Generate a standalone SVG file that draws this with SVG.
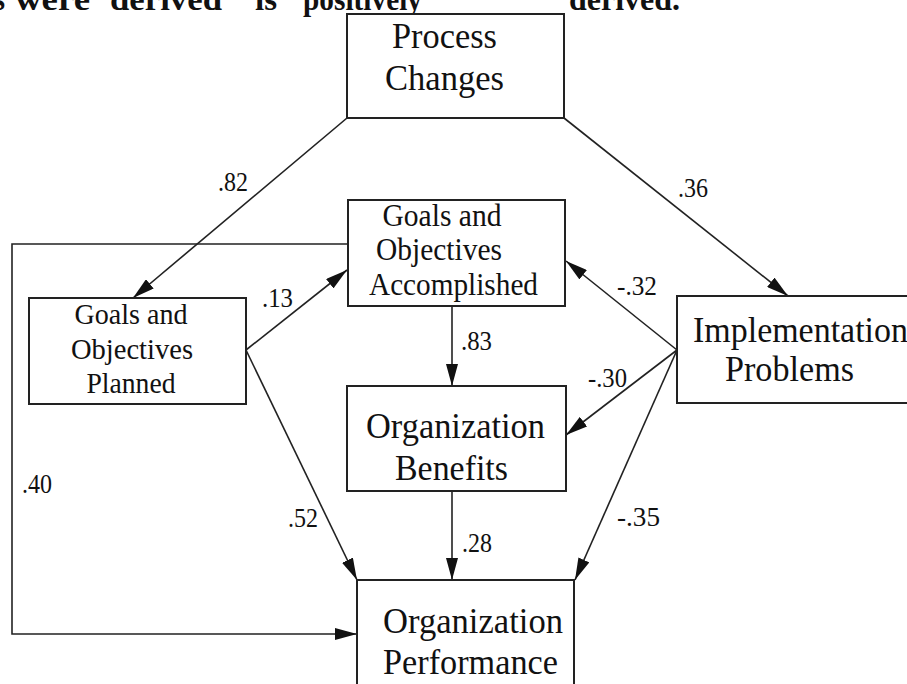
<svg xmlns="http://www.w3.org/2000/svg" width="907" height="684" viewBox="0 0 907 684">
  <style>
    .box { fill: #ffffff; stroke: #222; stroke-width: 2; }
    .node { font-family: "Liberation Serif", "Times New Roman", serif; font-size: 36px; fill: #111; }
    .small { font-size: 31px; }
    .lbl { font-family: "Liberation Serif", "Times New Roman", serif; font-size: 27px; fill: #111; }
    .edge { fill: none; stroke: #222; stroke-width: 1.6; }
    .head { font-family: "Liberation Serif", "Times New Roman", serif; font-size: 31px; font-weight: bold; fill: #111; }
  </style>
  <defs>
    <marker id="arrow" markerUnits="userSpaceOnUse" markerWidth="22" markerHeight="12" refX="22" refY="6" orient="auto">
      <path d="M0,0 L22,6 L0,12 z" fill="#111"/>
    </marker>
  </defs>
  <rect x="0" y="0" width="907" height="684" fill="#ffffff"/>

  <g id="header-text" class="head">
    <text x="-7" y="10">s</text>
    <text x="15" y="10" textLength="75" lengthAdjust="spacingAndGlyphs">were</text>
    <text x="110" y="10" textLength="112" lengthAdjust="spacingAndGlyphs">derived</text>
    <text x="255" y="10" textLength="22" lengthAdjust="spacingAndGlyphs">is</text>
    <text x="303" y="10" textLength="119" lengthAdjust="spacingAndGlyphs">positively</text>
    <text x="569" y="10" textLength="111" lengthAdjust="spacingAndGlyphs">derived.</text>
  </g>

  <g id="connectors">
    <line class="edge" x1="347" y1="118" x2="133" y2="298" marker-end="url(#arrow)"/>
    <line class="edge" x1="564" y1="118" x2="788" y2="296" marker-end="url(#arrow)"/>
    <line class="edge" x1="246" y1="350" x2="347" y2="270" marker-end="url(#arrow)"/>
    <line class="edge" x1="246" y1="350" x2="357" y2="580" marker-end="url(#arrow)"/>
    <line class="edge" x1="452" y1="306" x2="452" y2="386" marker-end="url(#arrow)"/>
    <line class="edge" x1="452" y1="491" x2="452" y2="580" marker-end="url(#arrow)"/>
    <line class="edge" x1="677" y1="350" x2="566" y2="261" marker-end="url(#arrow)"/>
    <line class="edge" x1="677" y1="350" x2="566" y2="435" marker-end="url(#arrow)"/>
    <line class="edge" x1="677" y1="350" x2="575" y2="580" marker-end="url(#arrow)"/>
    <polyline class="edge" points="348,244 12,244 12,634 357,634" marker-end="url(#arrow)"/>
    <g class="lbl">
      <text x="218" y="191" textLength="30" lengthAdjust="spacingAndGlyphs">.82</text>
      <text x="678" y="197" textLength="30" lengthAdjust="spacingAndGlyphs">.36</text>
      <text x="262" y="307" textLength="31" lengthAdjust="spacingAndGlyphs">.13</text>
      <text x="617" y="295" textLength="40" lengthAdjust="spacingAndGlyphs">-.32</text>
      <text x="461" y="350" textLength="31" lengthAdjust="spacingAndGlyphs">.83</text>
      <text x="588" y="387" textLength="39" lengthAdjust="spacingAndGlyphs">-.30</text>
      <text x="22" y="493" textLength="30" lengthAdjust="spacingAndGlyphs">.40</text>
      <text x="288" y="527" textLength="30" lengthAdjust="spacingAndGlyphs">.52</text>
      <text x="462" y="552" textLength="30" lengthAdjust="spacingAndGlyphs">.28</text>
      <text x="617" y="526" textLength="43" lengthAdjust="spacingAndGlyphs">-.35</text>
    </g>
  </g>

  <g id="process-changes">
    <rect class="box" x="347" y="14" width="217" height="104"/>
    <text class="node" x="444.5" y="48" text-anchor="middle" textLength="105" lengthAdjust="spacingAndGlyphs">Process</text>
    <text class="node" x="444.5" y="90" text-anchor="middle" textLength="119" lengthAdjust="spacingAndGlyphs">Changes</text>
  </g>

  <g id="goals-accomplished">
    <rect class="box" x="348" y="200" width="217" height="106"/>
    <text class="node small" x="442" y="226" text-anchor="middle" textLength="119" lengthAdjust="spacingAndGlyphs">Goals and</text>
    <text class="node small" x="439" y="260" text-anchor="middle" textLength="126" lengthAdjust="spacingAndGlyphs">Objectives</text>
    <text class="node small" x="453.5" y="295" text-anchor="middle" textLength="169" lengthAdjust="spacingAndGlyphs">Accomplished</text>
  </g>

  <g id="goals-planned">
    <rect class="box" x="29" y="298" width="217" height="106"/>
    <text class="node" style="font-size:30px" x="131" y="324" text-anchor="middle" textLength="113" lengthAdjust="spacingAndGlyphs">Goals and</text>
    <text class="node" style="font-size:30px" x="132" y="359" text-anchor="middle" textLength="122" lengthAdjust="spacingAndGlyphs">Objectives</text>
    <text class="node" style="font-size:30px" x="131" y="393" text-anchor="middle" textLength="89" lengthAdjust="spacingAndGlyphs">Planned</text>
  </g>

  <g id="organization-benefits">
    <rect class="box" x="347" y="386" width="219" height="105"/>
    <text class="node" x="455.5" y="438" text-anchor="middle" textLength="179" lengthAdjust="spacingAndGlyphs">Organization</text>
    <text class="node" x="451.5" y="480" text-anchor="middle" textLength="113" lengthAdjust="spacingAndGlyphs">Benefits</text>
  </g>

  <g id="implementation-problems">
    <rect class="box" x="677" y="296" width="260" height="107"/>
    <text class="node" x="693" y="342" textLength="215" lengthAdjust="spacingAndGlyphs">Implementation</text>
    <text class="node" x="725" y="381" textLength="129" lengthAdjust="spacingAndGlyphs">Problems</text>
  </g>

  <g id="organization-performance">
    <rect class="box" x="357" y="580" width="217" height="120"/>
    <text class="node" x="383" y="633" textLength="180" lengthAdjust="spacingAndGlyphs">Organization</text>
    <text class="node" x="383" y="674" textLength="175" lengthAdjust="spacingAndGlyphs">Performance</text>
  </g>
</svg>
